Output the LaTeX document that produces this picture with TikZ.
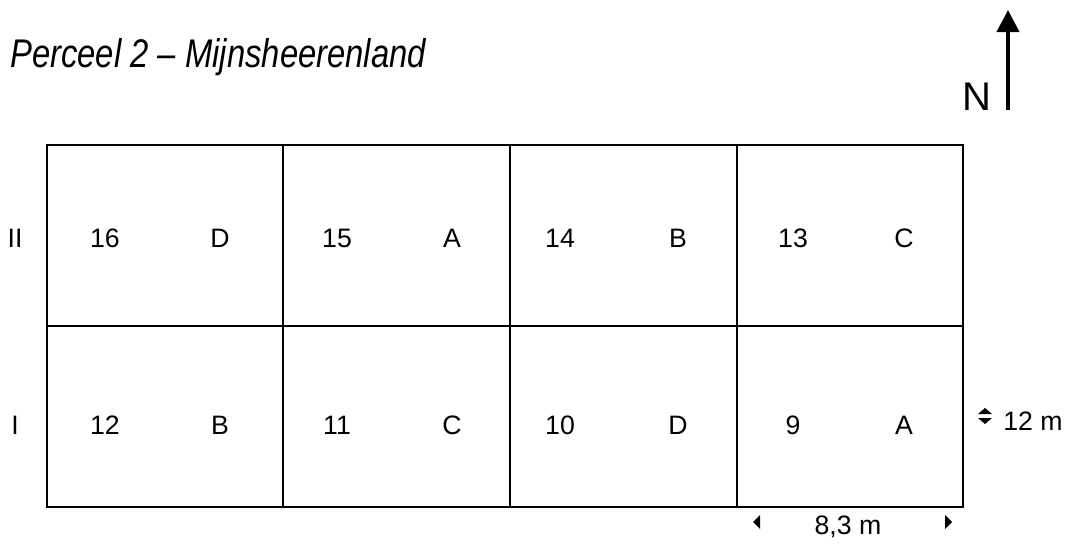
\documentclass[tikz,border=0pt]{standalone}
\usepackage{fontspec}
\setmainfont{Liberation Sans}
\newfontfamily\titlefont{Liberation Sans}[FakeStretch=0.82]
\usetikzlibrary{arrows.meta}

\begin{document}
\begin{tikzpicture}[x=0.75pt,y=-0.75pt,
    plotline/.style={line width=2.2pt},
    lbl/.style={font=\fontsize{20}{24}\selectfont, inner sep=0pt},
    tiptri/.style={fill=black, draw=none}]

    \useasboundingbox (0,0) rectangle (1073,543);

    % Title
    \node[anchor=base west, inner sep=0pt,
          font=\titlefont\itshape\fontsize{30}{36}\selectfont] (title) at (10,67)
        {Perceel 2 – Mijnsheerenland};

    % North arrow
    \coordinate (Nfoot) at (1008,110);
    \coordinate (Ntip) at (1008,10);
    \node[font=\fontsize{30}{36}\selectfont, inner sep=0pt] (north) at (977,97) {N};
    \draw[line width=3pt, -{Triangle[length=16.5pt,width=16.5pt]}] (Nfoot) -- (Ntip);

    % Points
    \coordinate (NW) at (47,145);
    \coordinate (SE) at (963,507);
    \coordinate (W) at (47,326);
    \coordinate (E) at (963,326);

    % Plots
    \draw[plotline] (NW) rectangle (SE);
    \draw[plotline] (W) -- (E);
    \foreach \x in {283,510,737}
        \draw[plotline] (\x,145) -- (\x,507);

    % Row labels
    \node[lbl] (rowII) at (15,238) {II};
    \node[lbl] (rowI) at (15,425) {I};

    % Plot numbers and treatments
    \foreach \num/\trt/\xa/\xb/\y in {16/D/105/220/238, 15/A/337/452/238,
                                     14/B/560/678/238, 13/C/793/904/238,
                                     12/B/105/220/425, 11/C/337/452/425,
                                     10/D/560/678/425, 9/A/793/904/425}
    {
        \node[lbl] (num\num) at (\xa,\y) {\num};
        \node[lbl] (trt\num) at (\xb,\y) {\trt};
    }

    % Dimensions
    \node[lbl, anchor=west] (height) at (1003,421) {12 m};
    \node[lbl] (width) at (848,527) {8,3 m};
    \fill[tiptri] (985,408) -- (992,414) -- (978,414) -- cycle;
    \fill[tiptri] (985,424) -- (992,418) -- (978,418) -- cycle;
    \fill[tiptri] (753,522) -- (760,515) -- (760,529) -- cycle;
    \fill[tiptri] (952,522) -- (945,515) -- (945,529) -- cycle;
\end{tikzpicture}
\end{document}
